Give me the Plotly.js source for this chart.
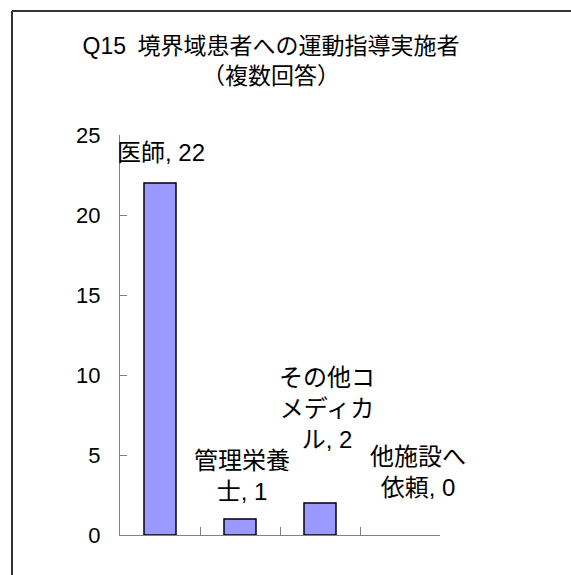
<!DOCTYPE html>
<html>
<head>
<meta charset="utf-8">
<script src="https://cdn.plot.ly/plotly-3.0.1.min.js"></script>
<style>
  html, body { margin: 0; padding: 0; background: #ffffff; }
  #chart { width: 571px; height: 575px; }
</style>
</head>
<body>
<div id="chart"></div>
<script>
// 境界域患者への運動指導実施者（複数回答）
const categories = ['医師', '管理栄養士', 'その他コメディカル', '他施設へ依頼'];
const labelNames = ['医師', '管理栄養<br>士', 'その他コ<br>メディカ<br>ル', '他施設へ<br>依頼'];
const counts = [22, 1, 2, 0];
const yTicks = [0, 5, 10, 15, 20, 25];

const FONT = '"Liberation Sans", Arial, "Noto Sans CJK JP", sans-serif';

// pixel offsets of each data label from the top of its bar
const labelShift = [
  { dx: 1, dy: 31 },
  { dx: 2, dy: 43 },
  { dx: 7, dy: 95 },
  { dx: 18, dy: 63 }
];

const trace = {
  type: 'bar',
  x: categories,
  y: counts,
  marker: {
    color: '#9999FF',
    // an empty bar leaves no outline on the axis
    line: { color: '#000000', width: counts.map(v => (v > 0 ? 1.5 : 0)) }
  },
  hoverinfo: 'x+y'
};

const annotations = categories.map((c, i) => ({
  x: c,
  y: counts[i],
  xref: 'x',
  yref: 'y',
  text: labelNames[i] + ', ' + counts[i],
  showarrow: false,
  xanchor: 'center',
  yanchor: 'middle',
  xshift: labelShift[i].dx,
  yshift: labelShift[i].dy,
  font: { family: FONT, size: 24, color: '#000000' }
}));

// frame lines along the top and left of the chart area
const px = v => (v - 120) / 320;
const py = v => (535 - v) / 400;
const shapes = [
  { type: 'line', xref: 'paper', yref: 'paper', x0: px(12), x1: px(580), y0: py(11), y1: py(11),
    line: { color: '#333333', width: 2 } },
  { type: 'line', xref: 'paper', yref: 'paper', x0: px(12), x1: px(12), y0: py(11), y1: py(580),
    line: { color: '#333333', width: 2 } }
];

const layout = {
  width: 571,
  height: 575,
  margin: { l: 120, r: 131, t: 135, b: 40, pad: 0 },
  paper_bgcolor: '#ffffff',
  plot_bgcolor: '#ffffff',
  font: { family: FONT, size: 22, color: '#000000' },
  showlegend: false,
  bargap: 0.6,
  title: {
    text: 'Q15\u2002境界域患者への運動指導実施者<br>（複数回答）',
    font: { family: FONT, size: 23, color: '#000000' },
    xref: 'paper',
    x: px(271),
    xanchor: 'center',
    yref: 'container',
    y: 1 - 54 / 575,
    yanchor: 'middle'
  },
  xaxis: {
    type: 'category',
    range: [-0.5, categories.length - 0.5],
    showline: true,
    linecolor: '#808080',
    linewidth: 1,
    ticks: 'inside',
    tickson: 'boundaries',
    ticklen: 8,
    tickcolor: '#808080',
    showticklabels: false,
    showgrid: false,
    zeroline: false,
    fixedrange: true
  },
  yaxis: {
    range: [0, 25],
    tickvals: yTicks,
    ticktext: yTicks.map(String),
    showline: true,
    linecolor: '#808080',
    linewidth: 1,
    ticks: 'inside',
    ticklen: 7,
    tickcolor: '#808080',
    ticklabelstandoff: 14,
    tickfont: { family: FONT, size: 22, color: '#000000' },
    showgrid: false,
    zeroline: false,
    fixedrange: true
  },
  annotations: annotations,
  shapes: shapes
};

Plotly.newPlot('chart', [trace], layout, { displayModeBar: false, staticPlot: true });
</script>
</body>
</html>
